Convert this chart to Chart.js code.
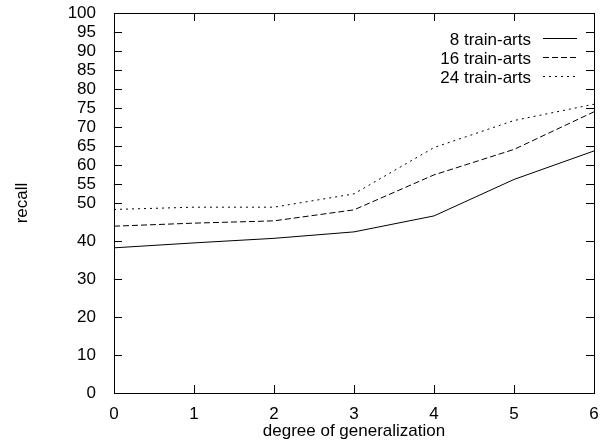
<!DOCTYPE html>
<html>
<head>
<meta charset="utf-8">
<script src="https://cdn.jsdelivr.net/npm/chart.js@4"></script>
<style>
  html, body { margin: 0; padding: 0; background: #fff; }
  #wrap { width: 608px; height: 442px; }
</style>
</head>
<body>
<div id="wrap"><canvas id="chart" width="608" height="442"></canvas></div>
<script>
// degree of generalization
const degrees = [0, 1, 2, 3, 4, 5, 6];
const recall8 = [38.2, 39.5, 40.7, 42.4, 46.6, 56.2, 63.7];
const recall16 = [43.9, 44.7, 45.3, 48.2, 57.4, 64.1, 74.0];
const recall24 = [48.3, 48.9, 48.9, 52.4, 64.6, 71.7, 76.0];
const seriesNames = ['8 train-arts', '16 train-arts', '24 train-arts'];
const yTickValues = [0, 10, 20, 30, 40, 50, 55, 60, 65, 70, 75, 80, 85, 90, 95, 100];

const FONT = 'Liberation Sans, Arial, Helvetica, sans-serif';
const FSIZE = 17;
const dashes = [[], [6, 3], [2, 4]];

const toPoints = (vals) => vals.map((v, i) => ({ x: degrees[i], y: v }));

// gnuplot style: inward ticks on all four sides, legend top right, axis titles
const gnuplotBits = {
  id: 'gnuplotBits',
  afterDraw(chart) {
    const ctx = chart.ctx;
    const a = chart.chartArea;
    const xs = chart.scales.x, ys = chart.scales.y;
    ctx.save();
    ctx.strokeStyle = '#000';
    ctx.lineWidth = 1;
    ctx.strokeRect(Math.round(a.left) + 0.5, Math.round(a.top) + 0.5,
      Math.round(a.right - a.left), Math.round(a.bottom - a.top));
    ctx.beginPath();
    yTickValues.forEach(v => {
      const y = Math.round(ys.getPixelForValue(v)) + 0.5;
      ctx.moveTo(a.left, y); ctx.lineTo(a.left + 8, y);
      ctx.moveTo(a.right, y); ctx.lineTo(a.right - 8, y);
    });
    degrees.forEach(v => {
      const x = Math.round(xs.getPixelForValue(v)) + 0.5;
      ctx.moveTo(x, a.bottom); ctx.lineTo(x, a.bottom - 8);
      ctx.moveTo(x, a.top); ctx.lineTo(x, a.top + 8);
    });
    ctx.stroke();

    // legend
    ctx.font = FSIZE + 'px ' + FONT;
    ctx.fillStyle = '#000';
    ctx.textAlign = 'right';
    ctx.textBaseline = 'middle';
    const rowsY = [40, 59, 78];
    seriesNames.forEach((name, i) => {
      ctx.fillText(name, 531, rowsY[i]);
      ctx.beginPath();
      ctx.setLineDash(dashes[i]);
      ctx.moveTo(543, rowsY[i] - 1.5);
      ctx.lineTo(577, rowsY[i] - 1.5);
      ctx.stroke();
    });
    ctx.setLineDash([]);

    // axis titles
    ctx.textAlign = 'center';
    ctx.fillText('degree of generalization', (a.left + a.right) / 2, 431);
    ctx.translate(22, (a.top + a.bottom) / 2);
    ctx.rotate(-Math.PI / 2);
    ctx.fillText('recall', 0, 0);
    ctx.restore();
  }
};

const mkSet = (label, vals, i) => ({
  label,
  data: toPoints(vals),
  borderColor: '#000',
  borderWidth: 1,
  borderDash: dashes[i],
  pointRadius: 0,
  tension: 0,
  fill: false
});

new Chart(document.getElementById('chart').getContext('2d'), {
  type: 'line',
  data: {
    datasets: [
      mkSet(seriesNames[0], recall8, 0),
      mkSet(seriesNames[1], recall16, 1),
      mkSet(seriesNames[2], recall24, 2)
    ]
  },
  options: {
    responsive: false,
    animation: false,
    layout: { padding: { left: 0, top: 13, right: 14, bottom: 0 } },
    plugins: { legend: { display: false }, tooltip: { enabled: false } },
    scales: {
      x: {
        type: 'linear',
        min: 0,
        max: 6,
        grid: { display: false },
        border: { display: false },
        ticks: { stepSize: 1, color: '#000', padding: 3, font: { family: FONT, size: FSIZE } },
        afterFit: (s) => { s.height = 49; s.paddingLeft = 0; s.paddingRight = 0; }
      },
      y: {
        type: 'linear',
        min: 0,
        max: 100,
        grid: { display: false },
        border: { display: false },
        afterBuildTicks: (s) => { s.ticks = yTickValues.map(v => ({ value: v })); },
        ticks: { color: '#000', padding: 10, autoSkip: false, font: { family: FONT, size: FSIZE } },
        afterFit: (s) => { s.width = 114; s.paddingTop = 0; s.paddingBottom = 0; }
      }
    }
  },
  plugins: [gnuplotBits]
});
</script>
</body>
</html>
